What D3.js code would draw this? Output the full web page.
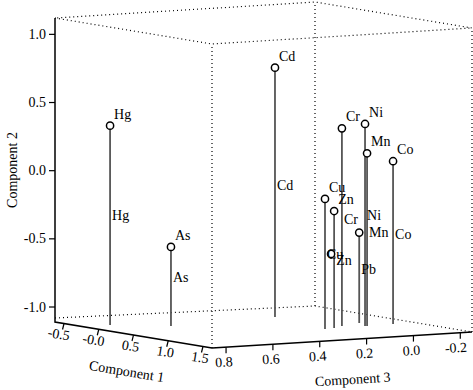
<!DOCTYPE html>
<html>
<head>
<meta charset="utf-8">
<script src="https://cdn.jsdelivr.net/npm/d3@7"></script>
<style>
  body { margin: 0; background: #fff; }
  text { font-family: "Liberation Serif", "Times New Roman", serif; fill: #000; }
</style>
</head>
<body>
<div id="wrapper"></div>
<script>
// loadings
const elements = ["Hg", "As", "Cd", "Cr", "Ni", "Mn", "Co", "Cu", "Zn", "Pb"];
const comp1 = [-0.225, 0.075, -0.09, 0.742, 0.832, 0.841, 0.814, 0.866, 0.839, 0.620];
const comp3 = [0.745, 0.574, 0.081, 0.042, -0.030, -0.036, -0.155, 0.151, 0.104, -0.068];
const comp2 = [0.352, -0.53, 0.719, 0.34, 0.372, 0.157, 0.084, -0.156, -0.252, -0.447];
const topLabels = ["Hg", "As", "Cd", "Cr", "Ni", "Mn", "Co", "Cu", "Zn", ""];
// second set of labels on the same drop lines
const comp2Second = [-0.303, -0.75, -0.142, -0.325, -0.296, -0.42, -0.45, -0.56, -0.61, -0.714];
// lone marker without a drop line
const extraC1 = [0.859];
const extraC2 = [-0.563];
const extraC3 = [0.123];

const ticks1 = [-0.5, 0.0, 0.5, 1.0, 1.5];
const tickLabels1 = ["-0.5", "-0.0", "0.5", "1.0", "1.5"];
const ticks2 = [-1.0, -0.5, 0.0, 0.5, 1.0];
const ticks3 = [0.8, 0.6, 0.4, 0.2, 0.0, -0.2];

function drawChart() {
    const dimensions = {
        width: 473,
        height: 390,
        // floor corners of the box (left, front, right) and box height
        left: [55, 322],
        front: [212, 348],
        right: [472, 332],
        boxHeight: 304
    };

    // 1. Scales: each component maps to 0..1 along its box edge
    const s1 = d3.scaleLinear().domain([-0.63, 1.63]).range([0, 1]);
    const s2 = d3.scaleLinear().domain([-1.11, 1.12]).range([0, 1]);
    const s3 = d3.scaleLinear().domain([0.86, -0.25]).range([0, 1]);

    const L = dimensions.left, F = dimensions.front, R = dimensions.right;
    const e1 = [F[0] - L[0], F[1] - L[1]];
    const e3 = [R[0] - F[0], R[1] - F[1]];
    const project = (c1, c2, c3) => {
        const u = s1(c1), h = s2(c2), w = s3(c3);
        return [L[0] + u * e1[0] + w * e3[0],
                L[1] + u * e1[1] + w * e3[1] - h * dimensions.boxHeight];
    };

    // 2. Workspace
    const svg = d3.select('#wrapper')
        .append('svg')
        .attr('width', dimensions.width)
        .attr('height', dimensions.height);

    const c1min = s1.domain()[0], c1max = s1.domain()[1];
    const c2min = s2.domain()[0], c2max = s2.domain()[1];
    const c3min = s3.domain()[0], c3max = s3.domain()[1];

    const line = d3.line();
    const dotted = (pts) => svg.append('path')
        .attr('d', line(pts))
        .attr('fill', 'none')
        .attr('stroke', '#000')
        .attr('stroke-width', 1.2)
        .attr('stroke-dasharray', '1,3');

    // 3. Dotted box
    const pLB = project(c1min, c2min, c3min), pFB = project(c1max, c2min, c3min);
    const pRB = project(c1max, c2min, c3max), pBB = project(c1min, c2min, c3max);
    const pLT = project(c1min, c2max, c3min), pFT = project(c1max, c2max, c3min);
    const pRT = project(c1max, c2max, c3max), pBT = project(c1min, c2max, c3max);
    dotted([pLT, pFT, pRT, pBT, pLT]);
    dotted([[pLB[0], pLB[1] - 4], [pBB[0], pBB[1]], pRB]);
    dotted([pBB, pBT]);
    dotted([pFB, pFT]);
    dotted([pRB, pRT]);

    // 4. Solid axes
    svg.append('path')
        .attr('d', line([pLT, pLB, pFB, pRB]))
        .attr('fill', 'none')
        .attr('stroke', '#000')
        .attr('stroke-width', 1.5);

    // Component 2 (vertical)
    ticks2.forEach(t => {
        const p = project(c1min, t, c3min);
        svg.append('line')
            .attr('x1', p[0]).attr('x2', p[0] - 6)
            .attr('y1', p[1]).attr('y2', p[1])
            .attr('stroke', '#000').attr('stroke-width', 1.2);
        svg.append('text')
            .attr('x', p[0] - 9).attr('y', p[1] + 4.5)
            .attr('text-anchor', 'end')
            .style('font-size', '14px')
            .text(t.toFixed(1));
    });

    // Component 1 (left-front edge)
    const ang1 = Math.atan2(e1[1], e1[0]) * 180 / Math.PI;
    ticks1.forEach((t, i) => {
        const p = project(t, c2min, c3min);
        svg.append('line')
            .attr('x1', p[0]).attr('x2', p[0] - 1.5)
            .attr('y1', p[1]).attr('y2', p[1] + 6)
            .attr('stroke', '#000').attr('stroke-width', 1.2);
        svg.append('text')
            .attr('transform', `translate(${p[0] + 5},${p[1] + 17}) rotate(${ang1})`)
            .attr('text-anchor', 'end')
            .style('font-size', '14px')
            .text(tickLabels1[i]);
    });

    // Component 3 (front-right edge)
    const ang3 = Math.atan2(e3[1], e3[0]) * 180 / Math.PI;
    ticks3.forEach(t => {
        const p = project(c1max, c2min, t);
        svg.append('line')
            .attr('x1', p[0]).attr('x2', p[0])
            .attr('y1', p[1]).attr('y2', p[1] + 6)
            .attr('stroke', '#000').attr('stroke-width', 1.2);
        svg.append('text')
            .attr('transform', `translate(${p[0] + 7},${p[1] + 19}) rotate(${ang3})`)
            .attr('text-anchor', 'end')
            .style('font-size', '14px')
            .text(t.toFixed(1));
    });

    // axis titles
    svg.append('text')
        .attr('transform', `translate(126,376) rotate(${ang1})`)
        .attr('text-anchor', 'middle')
        .style('font-size', '14px')
        .text('Component 1');
    svg.append('text')
        .attr('transform', `translate(353,384) rotate(${ang3})`)
        .attr('text-anchor', 'middle')
        .style('font-size', '14px')
        .text('Component 3');
    svg.append('text')
        .attr('transform', 'translate(17,170) rotate(-90)')
        .attr('text-anchor', 'middle')
        .style('font-size', '14px')
        .text('Component 2');

    // 5. Drop lines
    elements.forEach((el, i) => {
        const base = project(comp1[i], c2min, comp3[i]);
        const top = project(comp1[i], comp2[i], comp3[i]);
        svg.append('line')
            .attr('x1', base[0]).attr('y1', base[1])
            .attr('x2', top[0]).attr('y2', top[1])
            .attr('stroke', '#555')
            .attr('stroke-width', 1.8);
    });

    // 6. Markers and their labels
    const markers = elements.map((el, i) => project(comp1[i], comp2[i], comp3[i]))
        .concat(extraC1.map((c, i) => project(c, extraC2[i], extraC3[i])));
    svg.selectAll('circle')
        .data(markers)
        .join('circle')
        .attr('cx', d => d[0])
        .attr('cy', d => d[1])
        .attr('r', 3.6)
        .attr('fill', '#fff')
        .attr('stroke', '#000')
        .attr('stroke-width', 1.5);

    topLabels.forEach((lab, i) => {
        const p = markers[i];
        svg.append('text')
            .attr('x', p[0] + 4).attr('y', p[1] - 7)
            .style('font-size', '14px')
            .text(lab);
    });

    // 7. Second labels, drawn over the markers
    elements.forEach((el, i) => {
        const p = project(comp1[i], comp2Second[i], comp3[i]);
        svg.append('text')
            .attr('x', p[0] + 2).attr('y', p[1] + 5)
            .style('font-size', '14px')
            .text(el);
    });
}

drawChart();
</script>
</body>
</html>
